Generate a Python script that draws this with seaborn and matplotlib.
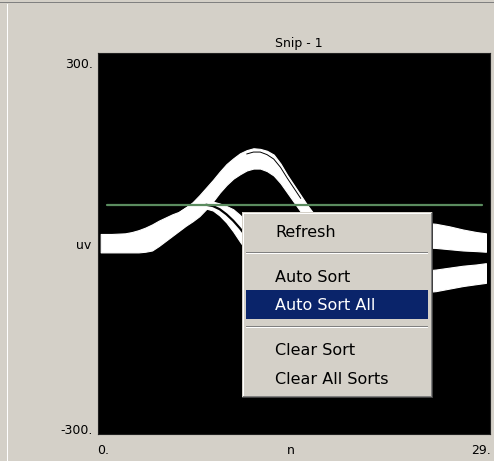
import matplotlib
matplotlib.use("Agg")
import matplotlib.pyplot as plt
import seaborn as sns
from matplotlib.patches import Rectangle

# waveform envelopes (n = sample index, uV)
n_big = [0.2, 1, 2, 2.5, 3, 3.5, 4, 4.5, 5, 5.5, 6, 6.5, 7, 7.5, 8, 8.5, 9,
         9.5, 10, 10.5, 11, 11.5, 12, 12.5, 13, 13.5, 14, 14.5, 15, 15.5, 16,
         16.5, 17, 17.5, 18, 19, 20, 21, 22, 23, 24, 25, 26, 27, 28, 28.7]
big_hi = [15, 15, 16, 18, 21, 25, 30, 36, 41, 46, 50, 57, 65, 76, 88, 100, 113,
          125, 134, 142, 147, 150, 149, 146, 140, 126, 108, 92, 76, 60, 46,
          39, 35, 33, 31, 31, 33, 34, 35, 35, 33, 31, 27, 22, 18, 16]
big_lo = [-14, -14, -14, -14, -14, -13, -11, -4, 4, 12, 20, 28, 35, 43, 54, 66,
          80, 92, 102, 109, 115, 118, 118, 114, 107, 95, 80, 65, 50, 36, 24,
          16, 10, 6, 3, 0, -2, -3, -4, -5, -6, -7, -9, -11, -12, -13]

n_small = [6, 6.5, 7, 7.5, 8, 8.5, 9, 9.5, 10, 10.5, 11, 11.5, 12, 12.5, 13,
           14, 15, 16, 17, 18, 19, 20, 21, 22, 23, 24, 25, 26, 27, 28, 28.7]
small_hi = [50, 57, 63, 66, 67, 66, 63, 59, 54, 45, 33, 18, 2, -15, -30, -50,
            -60, -63, -62, -60, -57, -54, -51, -48, -46, -43, -41, -38, -35,
            -33, -31]
small_lo = [21, 30, 42, 52, 55, 52, 44, 33, 19, 3, -12, -28, -45, -62, -76, -90,
            -97, -97, -94, -92, -89, -86, -83, -80, -78, -77, -75, -71, -67,
            -64, -62]

# dark gaps between overlapping traces
gap_n = [11, 11.5, 12, 12.5, 13, 13.5, 14, 14.5, 15]
gap_uv = [141, 144, 144, 140, 133, 120, 103, 87, 71]
gap2_n = [8, 8.5, 9, 9.5, 10, 10.5, 11]
gap2_uv = [61, 59, 54, 46, 36, 24, 10]

threshold_n = [0.7, 28.4]
threshold_uv = [60, 60]

menu_items = ["Refresh", "Auto Sort", "Auto Sort All", "Clear Sort", "Clear All Sorts"]
menu_baselines = [237, 282, 310, 355, 384]
selected = "Auto Sort All"

BG = "#D4D0C8"
W, H = 494, 461

sns.set_style("white")
plt.rcParams["font.family"] = ["DejaVu Sans"]
plt.rcParams["text.color"] = "black"

fig = plt.figure(figsize=(W / 100, H / 100), dpi=100, facecolor=BG)
ax = fig.add_axes([98 / W, 1 - 434 / H, 392 / W, 381 / H])
ax.set_facecolor("black")

ax.fill_between(n_big, big_lo, big_hi, color="white", lw=0.8, ec="white")
ax.fill_between(n_small, small_lo, small_hi, color="white", lw=0.8, ec="white")
sns.lineplot(x=gap_n, y=gap_uv, ax=ax, color="black", lw=0.7)
sns.lineplot(x=gap2_n, y=gap2_uv, ax=ax, color="black", lw=1.6)
sns.lineplot(x=threshold_n, y=threshold_uv, ax=ax, color="#5b8c5f", lw=1.6)

ax.set_xlim(0, 29)
ax.set_ylim(-300, 300)
ax.set_xticks([])
ax.set_yticks([])
for s in ax.spines.values():
    s.set_color("#202020")
    s.set_linewidth(0.8)

# overlay in pixel coordinates for labels, window frame and context menu
ov = fig.add_axes([0, 0, 1, 1], zorder=10)
ov.set_xlim(0, W)
ov.set_ylim(H, 0)
ov.axis("off")
ov.patch.set_alpha(0)

def box(x, y, w, h, c):
    ov.add_patch(Rectangle((x, y), w, h, fc=c, ec="none", lw=0, antialiased=False))

# window frame
box(0, 2, W, 1.5, "#808080")
box(7, 4, 1.2, H - 4, "white")

fs = 9
ov.text(299, 44, "Snip - 1", fontsize=fs, ha="center", va="center", color="black")
ov.text(93, 65, "300.", fontsize=fs, ha="right", va="center", color="black")
ov.text(91, 245, "uv", fontsize=fs, ha="right", va="center", color="black")
ov.text(93, 430, "-300.", fontsize=fs, ha="right", va="center", color="black")
ov.text(97, 450, "0.", fontsize=fs, ha="left", va="center", color="black")
ov.text(291, 450, "n", fontsize=fs, ha="center", va="center", color="black")
ov.text(491, 450, "29.", fontsize=fs, ha="right", va="center", color="black")

# context menu
mx, my, mw, mh = 242, 212, 191, 186
box(mx, my, mw, mh, "#404040")
box(mx, my, mw - 1, mh - 1, BG)
box(mx + 1, my + 1, mw - 2, mh - 2, "#808080")
box(mx + 1, my + 1, mw - 3, mh - 3, "white")
box(mx + 2, my + 2, mw - 4, mh - 4, BG)
for sy in [252, 326]:
    box(mx + 4, sy, mw - 9, 1, "#808080")
    box(mx + 4, sy + 1, mw - 9, 1, "white")
box(mx + 4, 290, mw - 9, 29, "#0A246A")

for label, yb in zip(menu_items, menu_baselines):
    ov.text(275, yb, label, fontsize=11.5, ha="left", va="baseline",
            color="white" if label == selected else "black")

fig.savefig("out.png", dpi=100, facecolor=BG)
